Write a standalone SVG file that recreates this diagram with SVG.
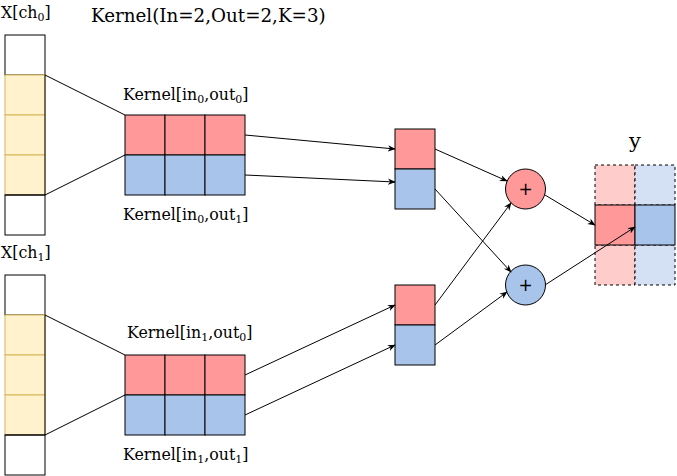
<svg xmlns="http://www.w3.org/2000/svg" width="677" height="476" viewBox="0 0 677 476">
<defs>
<marker id="ah" viewBox="0 0 10 10" refX="9" refY="5" markerWidth="8" markerHeight="8" orient="auto" markerUnits="userSpaceOnUse"><path d="M0,1 L10,5 L0,9 L3,5 Z" fill="#000"/></marker>
</defs>
<style>
text{font-family:"DejaVu Serif","Liberation Serif",serif;fill:#000}
.ttl{font-family:"DejaVu Serif","Liberation Serif",serif;font-size:18.3px}
.lbl{font-family:"DejaVu Serif","Liberation Serif",serif;font-size:15.8px}
.sub{font-size:11px}
.w{fill:#fff;stroke:#000;stroke-width:1}
.yl{fill:#fff2cc;stroke:#d6b656;stroke-width:1}
.r{fill:#ff9999;stroke:#000;stroke-width:1}
.b{fill:#a9c4eb;stroke:#000;stroke-width:1}
.rf{fill:#ffcccc;stroke:#000;stroke-width:1;stroke-dasharray:3 3}
.bf{fill:#d4e1f5;stroke:#000;stroke-width:1;stroke-dasharray:3 3}
.ln{fill:none;stroke:#000;stroke-width:1}
.ar{fill:none;stroke:#000;stroke-width:1;marker-end:url(#ah)}
</style>
<text class="ttl" x="91" y="22">Kernel(In=2,Out=2,K=3)</text>
<g id="xch0">
<text class="lbl" x="1" y="18">X[ch<tspan class="sub" dy="3">0</tspan><tspan dy="-3">]</tspan></text>
<rect class="w" x="5" y="35" width="40" height="40"/>
<rect class="yl" x="5" y="75" width="40" height="40"/>
<rect class="yl" x="5" y="115" width="40" height="40"/>
<rect class="yl" x="5" y="155" width="40" height="40"/>
<rect class="w" x="5" y="195" width="40" height="40"/>
<line x1="45" y1="75" x2="45" y2="195" stroke="#000"/>
<line x1="5" y1="195" x2="45" y2="195" stroke="#000"/>
</g>
<g id="xch1">
<text class="lbl" x="1" y="258">X[ch<tspan class="sub" dy="3">1</tspan><tspan dy="-3">]</tspan></text>
<rect class="w" x="5" y="275" width="40" height="40"/>
<rect class="yl" x="5" y="315" width="40" height="40"/>
<rect class="yl" x="5" y="355" width="40" height="40"/>
<rect class="yl" x="5" y="395" width="40" height="40"/>
<rect class="w" x="5" y="435" width="40" height="40"/>
<line x1="45" y1="315" x2="45" y2="435" stroke="#000"/>
<line x1="5" y1="435" x2="45" y2="435" stroke="#000"/>
</g>
<g id="kernel0">
<text class="lbl" x="123" y="100">Kernel[in<tspan class="sub" dy="3">0</tspan><tspan dy="-3">,out</tspan><tspan class="sub" dy="3">0</tspan><tspan dy="-3">]</tspan></text>
<rect class="r" x="125" y="115" width="40" height="40"/>
<rect class="r" x="165" y="115" width="40" height="40"/>
<rect class="r" x="205" y="115" width="40" height="40"/>
<rect class="b" x="125" y="155" width="40" height="40"/>
<rect class="b" x="165" y="155" width="40" height="40"/>
<rect class="b" x="205" y="155" width="40" height="40"/>
<text class="lbl" x="123" y="220">Kernel[in<tspan class="sub" dy="3">0</tspan><tspan dy="-3">,out</tspan><tspan class="sub" dy="3">1</tspan><tspan dy="-3">]</tspan></text>
</g>
<g id="kernel1">
<text class="lbl" x="127" y="338">Kernel[in<tspan class="sub" dy="3">1</tspan><tspan dy="-3">,out</tspan><tspan class="sub" dy="3">0</tspan><tspan dy="-3">]</tspan></text>
<rect class="r" x="125" y="355" width="40" height="40"/>
<rect class="r" x="165" y="355" width="40" height="40"/>
<rect class="r" x="205" y="355" width="40" height="40"/>
<rect class="b" x="125" y="395" width="40" height="40"/>
<rect class="b" x="165" y="395" width="40" height="40"/>
<rect class="b" x="205" y="395" width="40" height="40"/>
<text class="lbl" x="123" y="460">Kernel[in<tspan class="sub" dy="3">1</tspan><tspan dy="-3">,out</tspan><tspan class="sub" dy="3">1</tspan><tspan dy="-3">]</tspan></text>
</g>
<g id="mid0">
<rect class="r" x="395" y="129" width="40" height="40"/>
<rect class="b" x="395" y="169" width="40" height="40"/>
</g>
<g id="mid1">
<rect class="r" x="395" y="285" width="40" height="40"/>
<rect class="b" x="395" y="325" width="40" height="40"/>
</g>
<g id="sum0">
<circle cx="525.5" cy="189" r="20" class="r"/>
<text x="525.5" y="195" text-anchor="middle" style="font-size:17px;font-family:'DejaVu Sans',sans-serif">+</text>
</g>
<g id="sum1">
<circle cx="525.5" cy="285" r="20" class="b"/>
<text x="525.5" y="291" text-anchor="middle" style="font-size:17px;font-family:'DejaVu Sans',sans-serif">+</text>
</g>
<g id="y">
<text class="ttl" x="635" y="148" text-anchor="middle" style="font-size:21px">y</text>
<rect class="rf" x="595" y="165" width="40" height="40"/>
<rect class="bf" x="635" y="165" width="40" height="40"/>
<rect class="rf" x="595" y="245" width="40" height="40"/>
<rect class="bf" x="635" y="245" width="40" height="40"/>
<rect class="r" x="595" y="205" width="40" height="40"/>
<rect class="b" x="635" y="205" width="40" height="40"/>
</g>
<g id="connectors">
<line class="ln" x1="45" y1="75" x2="125" y2="115"/>
<line class="ln" x1="45" y1="195" x2="125" y2="155"/>
<line class="ln" x1="45" y1="315" x2="125" y2="355"/>
<line class="ln" x1="45" y1="435" x2="125" y2="395"/>
<line class="ar" x1="245" y1="135" x2="395" y2="149"/>
<line class="ar" x1="245" y1="175" x2="395" y2="182"/>
<line class="ar" x1="245" y1="375" x2="395" y2="305"/>
<line class="ar" x1="245" y1="415" x2="395" y2="345"/>
<line class="ar" x1="435" y1="149" x2="507" y2="181"/>
<line class="ar" x1="435" y1="189" x2="511" y2="272"/>
<line class="ar" x1="435" y1="305" x2="511" y2="203"/>
<line class="ar" x1="435" y1="345" x2="507" y2="292"/>
<line class="ar" x1="545" y1="195" x2="595" y2="225"/>
<line class="ar" x1="545" y1="285" x2="635" y2="227"/>
</g>
</svg>
